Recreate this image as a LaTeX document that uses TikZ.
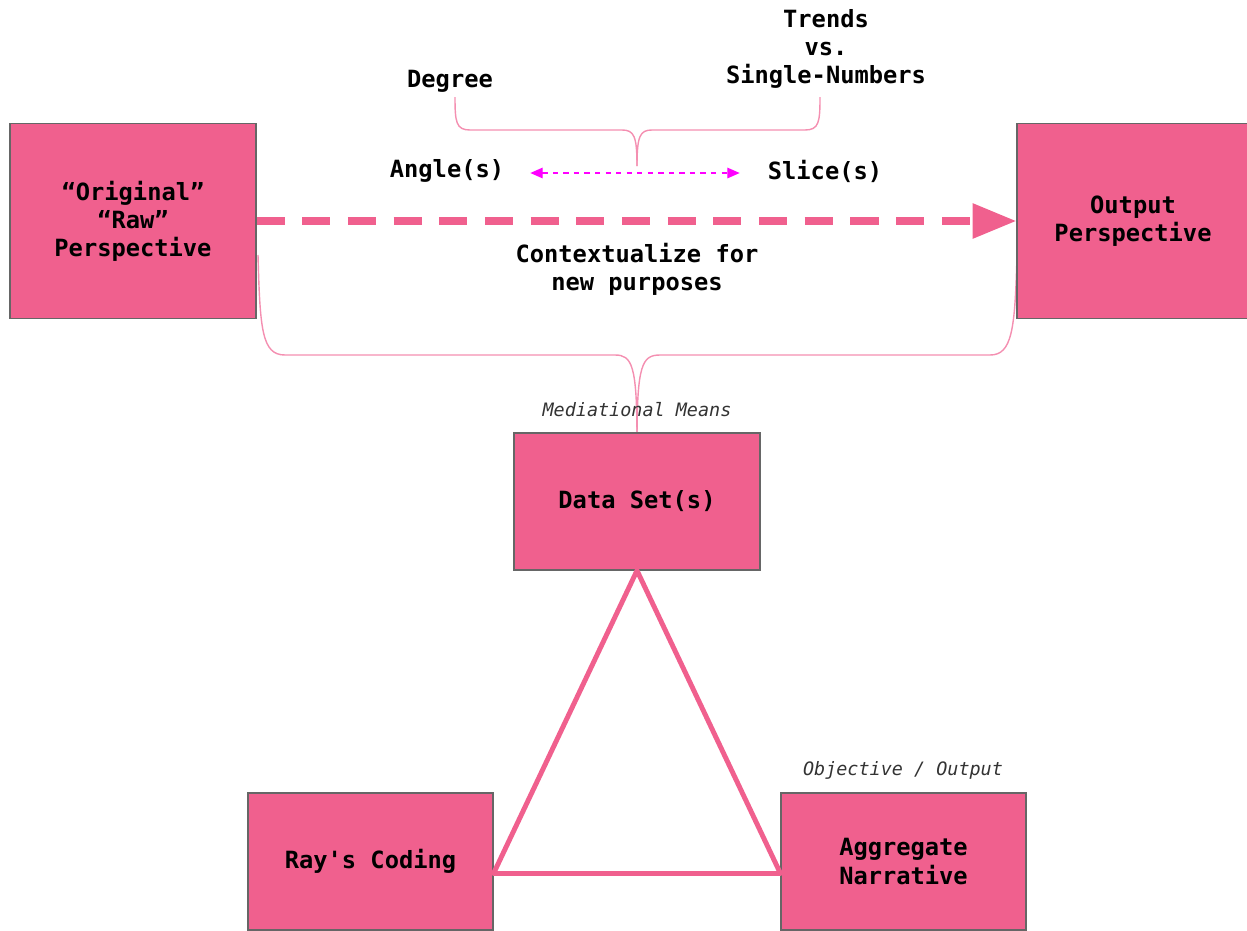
\documentclass[tikz,border=0pt]{standalone}
\usepackage{fontspec}
\setmonofont{DejaVu Sans Mono}
\usepackage{tikz}
\usetikzlibrary{calc}
\usetikzlibrary{arrows.meta}
\definecolor{boxpink}{HTML}{F0608E}
\definecolor{bracepink}{HTML}{F48FB1}
\definecolor{brightmagenta}{HTML}{FF00FF}
\def\bigfont{\ttfamily\bfseries\fontsize{13.5}{16}\selectfont}
\def\smallfont{\ttfamily\itshape\fontsize{10.5}{12}\selectfont}

\begin{document}
\begin{tikzpicture}[x=0.02cm, y=-0.02cm,
  box/.style={shape=rectangle, fill=boxpink, draw=black!60, line width=0.6pt,
    align=center, font=\bigfont},
  lbl/.style={align=center, font=\bigfont},
  note/.style={font=\smallfont, text=black!80},
  brace/.style={draw=bracepink, line width=0.8pt}]
\useasboundingbox (0,0) rectangle (1247,930);

% big brace behind the boxes
\coordinate (bl) at (258,255);
\coordinate (br) at (1017,255);
\coordinate (tip) at (637,440);
\draw[brace] (bl) .. controls (260,330) and (262,355) .. (285,355) -- (615,355)
  .. controls (632,355) and (637,365) .. (tip);
\draw[brace] (br) .. controls (1015,330) and (1012,355) .. (990,355) -- (660,355)
  .. controls (642,355) and (637,365) .. (tip);

% the five boxes
\node[box, minimum width=246*0.02cm, minimum height=195*0.02cm] (orig) at (133,221)
  {“Original”\\“Raw”\\Perspective};
\node[box, minimum width=232*0.02cm, minimum height=195*0.02cm] (output) at (1133,221)
  {Output\\Perspective};
\node[box, minimum width=246*0.02cm, minimum height=137*0.02cm] (data) at (637,501.5)
  {Data Set(s)};
\node[box, minimum width=245*0.02cm, minimum height=137*0.02cm] (coding) at (370.5,861.5)
  {Ray's Coding};
\node[box, minimum width=245*0.02cm, minimum height=137*0.02cm] (narrative) at (903.5,861.5)
  {Aggregate\\Narrative};

% labels
\node[lbl] (degree) at (450,81) {Degree};
\node[lbl] (trends) at (826,49) {Trends\\vs.\\Single-Numbers};
\node[lbl] (angle) at (447,171) {Angle(s)};
\node[lbl] (slice) at (825,171) {Slice(s)};
\node[lbl] (context) at (637,269) {Contextualize for\\new purposes};
\node[note] (mediation) at (637,410) {Mediational Means};
\node[note] (objective) at (903,770) {Objective / Output};

% small brace
\coordinate (stip) at (637,166);
\draw[brace] (455,97) .. controls (455,122) and (456,130) .. (470,130) -- (622,130)
  .. controls (634,130) and (637,136) .. (stip);
\draw[brace] (820,97) .. controls (820,122) and (819,130) .. (805,130) -- (652,130)
  .. controls (640,130) and (637,136) .. (stip);

% arrows
\draw[brightmagenta, dashed, line width=0.7pt,
  {Triangle[length=7pt,width=6pt]}-{Triangle[length=7pt,width=6pt]}]
  ($(angle.east)+(20,2)$) -- ($(slice.west)+(-22,2)$);
\draw[boxpink, line width=4.5pt, dash pattern=on 16pt off 10pt,
  -{Triangle[length=25pt,width=19pt]}] (orig.east) -- (output.west);

% triangle
\draw[boxpink, line width=2.8pt, line join=round]
  (data.south) -- ($(coding.east)+(0,12)$) -- ($(narrative.west)+(0,12)$) -- cycle;
\end{tikzpicture}
\end{document}
